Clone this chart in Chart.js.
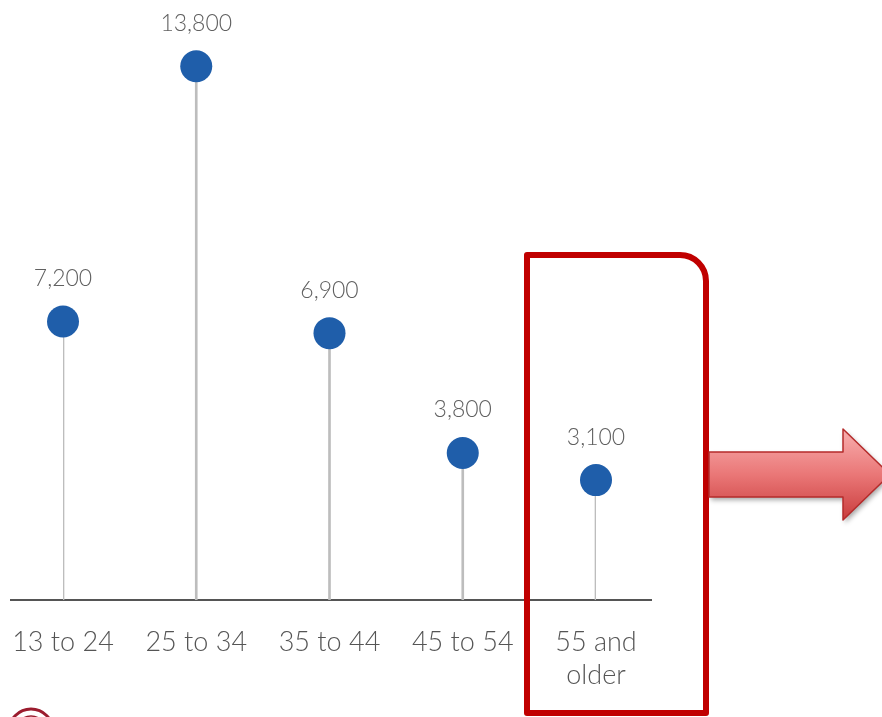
<!DOCTYPE html>
<html>
<head>
<meta charset="utf-8">
<script src="https://cdn.jsdelivr.net/npm/chart.js@4"></script>
<style>
  html, body { margin: 0; padding: 0; background: #fff; }
  #wrap { width: 882px; height: 717px; position: relative; }
</style>
</head>
<body>
<div id="wrap"><canvas id="age-chart"></canvas></div>
<script>
// --- data ---
const ageGroups = [['13 to 24'], ['25 to 34'], ['35 to 44'], ['45 to 54'], ['55 and', 'older']];
const diagnoses = [7200, 13800, 6900, 3800, 3100];

const FONT = 'Lato, "Open Sans", "Noto Sans", sans-serif';

// value text above each dot
const valueLabels = {
  id: 'valueLabels',
  afterDatasetsDraw(chart) {
    const ctx = chart.ctx;
    const meta = chart.getDatasetMeta(1);
    ctx.save();
    ctx.font = '300 23px ' + FONT;
    ctx.fillStyle = '#606060';
    ctx.textAlign = 'center';
    ctx.textBaseline = 'middle';
    meta.data.forEach((pt, i) => {
      ctx.fillText(diagnoses[i].toLocaleString('en-US'), pt.x, pt.y - 43);
    });
    ctx.restore();
  }
};

// baseline under the stems
const baseline = {
  id: 'baseline',
  beforeDatasetsDraw(chart) {
    const ctx = chart.ctx;
    const y = chart.scales.y.getPixelForValue(0);
    ctx.save();
    ctx.strokeStyle = '#555';
    ctx.lineWidth = 2;
    ctx.beginPath();
    ctx.moveTo(10, y);
    ctx.lineTo(652, y);
    ctx.stroke();
    ctx.restore();
  }
};

// highlight box around the last group + arrow pointing right
const callout = {
  id: 'callout',
  afterDraw(chart) {
    const ctx = chart.ctx;
    ctx.save();

    // rounded frame
    ctx.strokeStyle = '#c00000';
    ctx.lineWidth = 6;
    ctx.lineJoin = 'round';
    ctx.beginPath();
    ctx.moveTo(527, 713);
    ctx.lineTo(527, 255);
    ctx.lineTo(680, 255);
    ctx.arcTo(706, 255, 706, 281, 26);
    ctx.lineTo(706, 713);
    ctx.closePath();
    ctx.stroke();

    // arrow
    const g = ctx.createLinearGradient(0, 428, 0, 521);
    g.addColorStop(0, '#f8b0b0');
    g.addColorStop(0.5, '#ea7777');
    g.addColorStop(1, '#c83b3b');
    ctx.shadowColor = 'rgba(0,0,0,0.35)';
    ctx.shadowBlur = 5;
    ctx.shadowOffsetX = 2;
    ctx.shadowOffsetY = 3;
    ctx.fillStyle = g;
    ctx.beginPath();
    ctx.moveTo(709, 452);
    ctx.lineTo(843, 452);
    ctx.lineTo(843, 429);
    ctx.lineTo(890, 474.5);
    ctx.lineTo(843, 520);
    ctx.lineTo(843, 497);
    ctx.lineTo(709, 497);
    ctx.closePath();
    ctx.fill();
    ctx.shadowColor = 'transparent';
    ctx.strokeStyle = '#b52b2b';
    ctx.lineWidth = 1.5;
    ctx.stroke();

    // seal at the bottom-left edge
    ctx.strokeStyle = '#9b1c2e';
    ctx.lineWidth = 3;
    ctx.beginPath();
    ctx.arc(31, 731, 22, 0, Math.PI * 2);
    ctx.stroke();
    ctx.lineWidth = 1.5;
    ctx.beginPath();
    ctx.arc(31, 731, 15, 0, Math.PI * 2);
    ctx.stroke();
    ctx.restore();
  }
};

new Chart(document.getElementById('age-chart'), {
  data: {
    labels: ageGroups,
    datasets: [{
      type: 'bar',
      data: diagnoses,
      backgroundColor: '#bdbdbd',
      barThickness: 2,
      order: 2
    }, {
      type: 'line',
      data: diagnoses,
      showLine: false,
      pointRadius: 16,
      pointHoverRadius: 16,
      pointBackgroundColor: '#1f5eaa',
      pointBorderColor: '#1f5eaa',
      pointBorderWidth: 0,
      order: 1
    }]
  },
  options: {
    responsive: true,
    maintainAspectRatio: false,
    animation: false,
    layout: { padding: { left: 63, right: 286, top: 0, bottom: 0 } },
    plugins: { legend: { display: false }, tooltip: { enabled: false } },
    scales: {
      x: {
        type: 'category',
        offset: false,
        grid: { display: false, drawTicks: false },
        border: { display: false },
        afterFit(scale) {
          // keep label overhang from shifting the plot area
          scale.paddingLeft = 0;
          scale.paddingRight = 0;
          scale.height = 117;
        },
        ticks: {
          autoSkip: false,
          maxRotation: 0,
          padding: 26,
          color: '#555',
          font: { family: FONT, size: 27, weight: '300', lineHeight: '33px' }
        }
      },
      y: {
        display: false,
        min: 0,
        max: 15100
      }
    }
  },
  plugins: [baseline, valueLabels, callout]
});
</script>
</body>
</html>
